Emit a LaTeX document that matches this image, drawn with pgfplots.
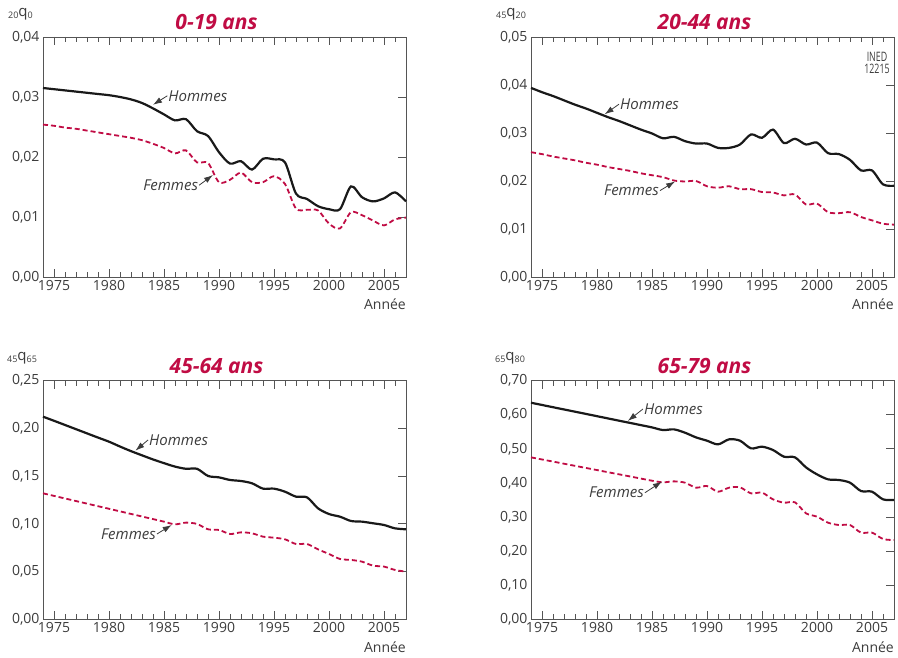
\documentclass[border=0pt]{standalone}
\usepackage{fontspec}
\setmainfont{Open Sans}
\usepackage{pgfplots}
\pgfplotsset{compat=1.18}
\usetikzlibrary{arrows.meta}
\definecolor{crim}{RGB}{192,12,68}
\definecolor{txt}{RGB}{60,60,60}
\definecolor{axc}{RGB}{85,85,85}
\newcommand{\sub}[1]{\raisebox{-2pt}{\fontsize{9}{9}\selectfont #1}}
\pgfplotsset{
 panel/.style={
   scale only axis, width=363pt, height=#1,
   xmin=1974, xmax=2007, ymin=0,
   xtick={1975,1980,1985,1990,1995,2000,2005},
   xtick pos=both, ytick pos=right, yticklabel pos=left,
   tick align=inside,
   major tick length=8pt, minor tick length=5pt,
   axis line style={draw=axc, line width=0.9pt},
   tick style={draw=axc, line width=0.9pt},
   ymajorgrids,
   major y grid style={draw=axc, line width=0.9pt, dash pattern=on 0pt off 356pt on 7pt off 0pt},
   /pgf/number format/assume math mode=true,
   scaled y ticks=false, scaled x ticks=false,
   xticklabel style={font=\fontsize{14}{14}\selectfont, text=txt, /pgf/number format/1000 sep={}},
   yticklabel style={font=\fontsize{14}{14}\selectfont, text=txt, /pgf/number format/.cd, fixed, fixed zerofill, precision=2, use comma, /tikz/.cd},
   clip=false,
 },
 hom/.style={black!90, line width=2.2pt, smooth, no markers},
 fem/.style={crim, line width=1.8pt, dash pattern=on 5pt off 3pt, smooth, no markers},
}
\tikzset{
 ttl/.style={font=\fontsize{21}{21}\selectfont\bfseries\itshape, text=crim, anchor=base, xshift=-8pt, yshift=7pt},
 ann/.style={font=\fontsize{15}{15}\selectfont\itshape, text=txt, inner sep=1pt},
 arr/.style={-{Latex[length=9pt,width=6pt]}, line width=0.8pt, txt},
 yl/.style={anchor=base west, yshift=20pt, font=\fontsize{15}{15}\selectfont, text=txt, inner sep=0pt},
 tk/.style={draw=axc, line width=0.9pt},
}
\newcommand{\deco}[1]{%
  \node[ttl] at (rel axis cs:0.5,1) {#1};
  \node[anchor=base east, yshift=-33pt, font=\fontsize{14}{14}\selectfont, text=txt, inner sep=0pt] at (rel axis cs:1,0) {Année};
}
\begin{document}
\begin{tikzpicture}
\path (0,0) rectangle (898pt,658pt);

% Panel 1
\begin{axis}[panel=240pt, at={(43pt,381pt)}, anchor=south west, ymax=0.04, ytick={0,0.01,0.02,0.03,0.04}]
\addplot[fem] coordinates {(1974,0.0254)(1975,0.0252)(1976,0.0249)(1977,0.0247)(1978,0.0244)(1979,0.0241)(1980,0.0238)(1981,0.0235)(1982,0.0232)(1983,0.0228)(1984,0.0222)(1985,0.0215)(1986,0.0206)(1987,0.0211)(1988,0.0191)(1989,0.0190)(1990,0.0158)(1991,0.0162)(1992,0.0174)(1993,0.0158)(1994,0.0158)(1995,0.0168)(1996,0.0155)(1997,0.0114)(1998,0.0112)(1999,0.0111)(2000,0.0089)(2001,0.0081)(2002,0.0108)(2003,0.0103)(2004,0.0094)(2005,0.0086)(2006,0.0096)(2007,0.0099)};
\addplot[hom] coordinates {(1974,0.0315)(1975,0.0313)(1976,0.0311)(1977,0.0309)(1978,0.0307)(1979,0.0305)(1980,0.0303)(1981,0.0300)(1982,0.0296)(1983,0.0290)(1984,0.0281)(1985,0.0271)(1986,0.0261)(1987,0.0263)(1988,0.0243)(1989,0.0235)(1990,0.0208)(1991,0.0189)(1992,0.0193)(1993,0.0179)(1994,0.0197)(1995,0.0196)(1996,0.0191)(1997,0.0139)(1998,0.0130)(1999,0.0118)(2000,0.0113)(2001,0.0113)(2002,0.0151)(2003,0.0133)(2004,0.0126)(2005,0.0131)(2006,0.0141)(2007,0.0126)};
\deco{0-19 ans}
\node[yl, xshift=-35pt] at (rel axis cs:0,1) {\sub{20}q\sub{0}};
\node[ann, anchor=west] (h) at (axis cs:1985.3,0.0302) {Hommes};
\draw[arr] (h.west) -- (axis cs:1984.0,0.0287);
\node[ann, anchor=east] (f) at (axis cs:1988.2,0.0153) {Femmes};
\draw[arr] (f.east) -- (axis cs:1989.45,0.0170);
\end{axis}

% Panel 2
\begin{axis}[panel=240pt, at={(531pt,381pt)}, anchor=south west, ymax=0.05, ytick={0,0.01,0.02,0.03,0.04,0.05}]
\addplot[fem] coordinates {(1974,0.0260)(1975,0.0256)(1976,0.0251)(1977,0.0247)(1978,0.0243)(1979,0.0238)(1980,0.0234)(1981,0.0229)(1982,0.0225)(1983,0.0221)(1984,0.0216)(1985,0.0212)(1986,0.0208)(1987,0.0201)(1988,0.0199)(1989,0.0200)(1990,0.0189)(1991,0.0186)(1992,0.0189)(1993,0.0183)(1994,0.0183)(1995,0.0177)(1996,0.0176)(1997,0.0170)(1998,0.0172)(1999,0.0151)(2000,0.0153)(2001,0.0135)(2002,0.0133)(2003,0.0135)(2004,0.0125)(2005,0.0118)(2006,0.0111)(2007,0.0109)};
\addplot[hom] coordinates {(1974,0.0394)(1975,0.0385)(1976,0.0377)(1977,0.0368)(1978,0.0359)(1979,0.0351)(1980,0.0342)(1981,0.0333)(1982,0.0325)(1983,0.0316)(1984,0.0307)(1985,0.0299)(1986,0.0289)(1987,0.0292)(1988,0.0283)(1989,0.0278)(1990,0.0278)(1991,0.0269)(1992,0.0269)(1993,0.0276)(1994,0.0297)(1995,0.0290)(1996,0.0307)(1997,0.0279)(1998,0.0288)(1999,0.0276)(2000,0.0280)(2001,0.0258)(2002,0.0256)(2003,0.0244)(2004,0.0222)(2005,0.0222)(2006,0.0193)(2007,0.0190)};
\deco{20-44 ans}
\node[yl, xshift=-35pt] at (rel axis cs:0,1) {\sub{45}q\sub{20}};
\node[anchor=north, align=center, inner sep=0pt, font=\fontsize{13}{12}\selectfont, text=txt, xshift=-17pt, yshift=-15pt] at (rel axis cs:1,1) {\scalebox{0.68}[1]{INED}\\\scalebox{0.68}[1]{12215}};
\node[ann, anchor=west] (h) at (axis cs:1982.0,0.0360) {Hommes};
\draw[arr] (h.west) -- (axis cs:1980.7,0.0339);
\node[ann, anchor=east] (f) at (axis cs:1985.73,0.0180) {Femmes};
\draw[arr] (f.east) -- (axis cs:1987.1,0.0199);
\end{axis}

% Panel 3
\begin{axis}[panel=238.6pt, at={(43pt,38.7pt)}, anchor=south west, ymax=0.25, ytick={0,0.05,0.10,0.15,0.20,0.25}]
\addplot[fem] coordinates {(1974,0.1320)(1975,0.1293)(1976,0.1266)(1977,0.1239)(1978,0.1212)(1979,0.1185)(1980,0.1158)(1981,0.1131)(1982,0.1104)(1983,0.1077)(1984,0.1050)(1985,0.1023)(1986,0.0995)(1987,0.1013)(1988,0.0999)(1989,0.0943)(1990,0.0936)(1991,0.0894)(1992,0.0911)(1993,0.0901)(1994,0.0866)(1995,0.0855)(1996,0.0838)(1997,0.0789)(1998,0.0789)(1999,0.0733)(2000,0.0684)(2001,0.0632)(2002,0.0622)(2003,0.0604)(2004,0.0562)(2005,0.0552)(2006,0.0517)(2007,0.0499)};
\addplot[hom] coordinates {(1974,0.2123)(1975,0.2080)(1976,0.2036)(1977,0.1992)(1978,0.1948)(1979,0.1904)(1980,0.1861)(1981,0.1810)(1982,0.1762)(1983,0.1718)(1984,0.1675)(1985,0.1636)(1986,0.1600)(1987,0.1577)(1988,0.1577)(1989,0.1502)(1990,0.1487)(1991,0.1460)(1992,0.1449)(1993,0.1425)(1994,0.1369)(1995,0.1369)(1996,0.1337)(1997,0.1285)(1998,0.1278)(1999,0.1163)(2000,0.1103)(2001,0.1075)(2002,0.1030)(2003,0.1023)(2004,0.1006)(2005,0.0988)(2006,0.0953)(2007,0.0943)};
\deco{45-64 ans}
\node[yl, xshift=-36pt] at (rel axis cs:0,1) {\sub{45}q\sub{65}};
\node[ann, anchor=west] (h) at (axis cs:1983.55,0.1879) {Hommes};
\draw[arr] (h.west) -- (axis cs:1982.4,0.1767);
\node[ann, anchor=east] (f) at (axis cs:1984.36,0.0894) {Femmes};
\draw[arr] (f.east) -- (axis cs:1985.7,0.0988);
\end{axis}

% Panel 4
\begin{axis}[panel=238.6pt, at={(531pt,38.7pt)}, anchor=south west, ymax=0.70, ytick={0,0.1,0.2,0.3,0.4,0.5,0.6,0.7}]
\addplot[fem] coordinates {(1974,0.4751)(1975,0.4689)(1976,0.4627)(1977,0.4564)(1978,0.4502)(1979,0.4440)(1980,0.4378)(1981,0.4315)(1982,0.4253)(1983,0.4191)(1984,0.4128)(1985,0.4066)(1986,0.4018)(1987,0.4047)(1988,0.4008)(1989,0.3861)(1990,0.3910)(1991,0.3744)(1992,0.3861)(1993,0.3871)(1994,0.3695)(1995,0.3715)(1996,0.3519)(1997,0.3421)(1998,0.3431)(1999,0.3109)(2000,0.3011)(2001,0.2835)(2002,0.2766)(2003,0.2766)(2004,0.2542)(2005,0.2542)(2006,0.2356)(2007,0.2326)};
\addplot[hom] coordinates {(1974,0.6354)(1975,0.6288)(1976,0.6222)(1977,0.6156)(1978,0.6091)(1979,0.6025)(1980,0.5959)(1981,0.5893)(1982,0.5827)(1983,0.5762)(1984,0.5696)(1985,0.5630)(1986,0.5552)(1987,0.5572)(1988,0.5474)(1989,0.5337)(1990,0.5240)(1991,0.5132)(1992,0.5279)(1993,0.5240)(1994,0.5015)(1995,0.5064)(1996,0.4966)(1997,0.4770)(1998,0.4751)(1999,0.4457)(2000,0.4252)(2001,0.4106)(2002,0.4086)(2003,0.4008)(2004,0.3763)(2005,0.3744)(2006,0.3519)(2007,0.3500)};
\deco{65-79 ans}
\node[yl, xshift=-36pt] at (rel axis cs:0,1) {\sub{65}q\sub{80}};
\node[ann, anchor=west] (h) at (axis cs:1984.18,0.617) {Hommes};
\draw[arr] (h.west) -- (axis cs:1982.8,0.582);
\node[ann, anchor=east] (f) at (axis cs:1984.36,0.3714) {Femmes};
\draw[arr] (f.east) -- (axis cs:1985.9,0.4037);
\end{axis}

% year ticks on the frames (canvas units: one year = 11pt)
\foreach \ox/\oy/\h in {43/381/240, 531/381/240, 43/38.7/238.6, 531/38.7/238.6} {
  \foreach \i in {2,...,32} {
    \draw[tk] ({(\ox+\i*11)*1pt},{\oy*1pt}) -- ++(0pt,5pt);
    \draw[tk] ({(\ox+\i*11)*1pt},{(\oy+\h)*1pt}) -- ++(0pt,-5pt);
  }
  \foreach \i in {1,6,11,16,21,26,31} {
    \draw[tk] ({(\ox+\i*11)*1pt},{\oy*1pt}) -- ++(0pt,8pt);
    \draw[tk] ({(\ox+\i*11)*1pt},{(\oy+\h)*1pt}) -- ++(0pt,-8pt);
  }
}
\end{tikzpicture}
\end{document}
